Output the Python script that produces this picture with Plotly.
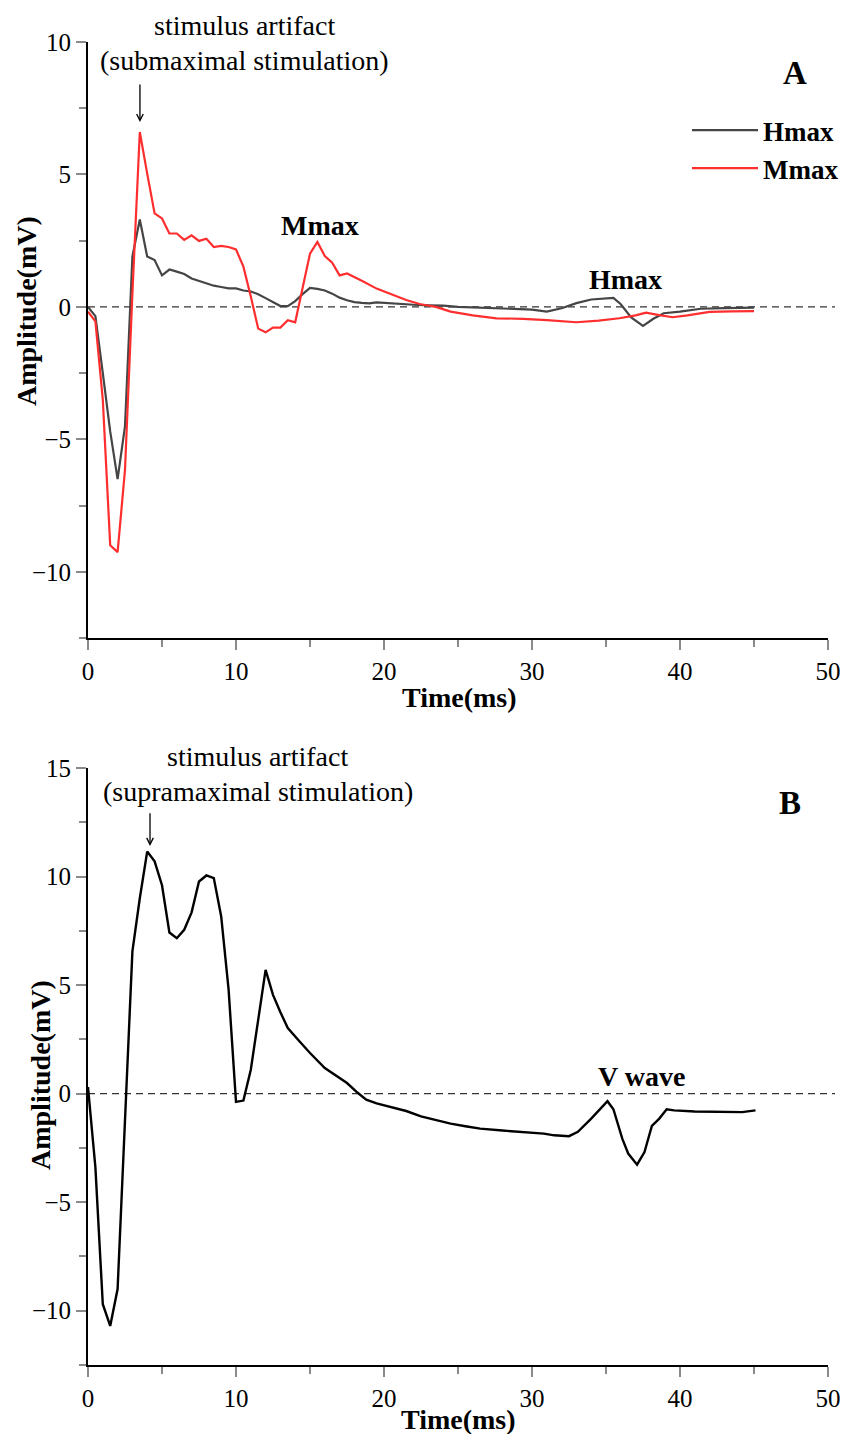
import plotly.graph_objects as go

# ---------------- Panel A data ----------------
t_hmax = [0, 0.5, 1.0, 1.5, 2.0, 2.5, 3.0, 3.5, 4.0, 4.5, 5.0, 5.5, 6.0, 6.5, 7.0, 7.5, 8.0,
          8.5, 9.0, 9.5, 10.0, 10.5, 11.0, 11.5, 12.0, 12.5, 13.0, 13.5, 14.0, 14.5, 15.0,
          15.5, 16.0, 16.5, 17.0, 17.5, 18.0, 18.5, 19.0, 19.5, 20.0, 21, 22, 23, 24, 25,
          26, 27, 28, 29, 30, 31, 32, 33, 34, 35.5, 36, 36.7, 37.5, 38.2, 38.9, 40, 41.4,
          43, 45]
v_hmax = [0, -0.35, -2.5, -4.7, -6.5, -4.5, 1.9, 3.3, 1.9, 1.77, 1.19, 1.41, 1.33, 1.24,
          1.07, 0.98, 0.88, 0.8, 0.75, 0.7, 0.7, 0.62, 0.58, 0.48, 0.33, 0.17, 0.03, 0.03,
          0.22, 0.48, 0.72, 0.68, 0.62, 0.5, 0.35, 0.25, 0.18, 0.15, 0.13, 0.17, 0.15, 0.12,
          0.08, 0.06, 0.05, 0.0, -0.02, -0.03, -0.05, -0.07, -0.1, -0.18, -0.05, 0.14, 0.28,
          0.34, 0.1, -0.4, -0.72, -0.45, -0.24, -0.18, -0.07, -0.05, -0.03]

t_mmax = [0, 0.5, 1.0, 1.5, 2.0, 2.5, 3.0, 3.5, 4.0, 4.5, 5.0, 5.5, 6.0, 6.5, 7.0, 7.5, 8.0,
          8.5, 9.0, 9.5, 10.0, 10.5, 11.0, 11.5, 12.0, 12.5, 13.0, 13.5, 14.0, 15.0, 15.5,
          16.0, 16.5, 17.0, 17.5, 18.0, 18.5, 19.5, 20.5, 21.5, 22.4, 23.5, 24.5, 26, 27.6,
          29.4, 31, 33, 34.5, 35.9, 37, 37.7, 38.5, 39.5, 40.5, 42, 43.5, 45]
v_mmax = [-0.18, -0.55, -3.5, -9.0, -9.26, -6.15, 0.5, 6.6, 5.03, 3.53, 3.34, 2.77, 2.77,
          2.53, 2.7, 2.49, 2.57, 2.26, 2.3, 2.26, 2.17, 1.52, 0.39, -0.82, -0.96, -0.78,
          -0.78, -0.5, -0.58, 2.01, 2.45, 1.92, 1.67, 1.19, 1.26, 1.13, 0.99, 0.69, 0.47,
          0.26, 0.11, 0.0, -0.18, -0.32, -0.43, -0.45, -0.5, -0.58, -0.52, -0.43, -0.32,
          -0.22, -0.3, -0.39, -0.32, -0.19, -0.17, -0.16]

# ---------------- Panel B data ----------------
t_b = [0, 0.5, 1.0, 1.5, 2.0, 3.0, 3.5, 4.0, 4.5, 5.0, 5.5, 6.0, 6.5, 7.0, 7.5, 8.0, 8.5,
       9.0, 9.5, 10.0, 10.5, 11.0, 12.0, 12.5, 13.0, 13.5, 14.3, 15.0, 16.0, 16.7, 17.5,
       18.2, 18.8, 19.5, 20.5, 21.5, 22.5, 23.5, 24.5, 25.5, 26.5, 28, 29.5, 30.8, 31.5,
       32.5, 33.1, 34, 35.1, 35.5, 36.1, 36.5, 37.1, 37.6, 38.1, 38.6, 39.1, 39.6, 41,
       42.8, 44.2, 45.1]
v_b = [0.3, -3.4, -9.7, -10.7, -9.0, 6.55, 9.0, 11.15, 10.7, 9.6, 7.42, 7.16, 7.55, 8.35,
       9.77, 10.05, 9.93, 8.16, 4.79, -0.38, -0.32, 1.1, 5.7, 4.55, 3.75, 3.02, 2.4, 1.87,
       1.18, 0.85, 0.49, 0.05, -0.28, -0.45, -0.62, -0.8, -1.05, -1.22, -1.38, -1.5, -1.61,
       -1.7, -1.78, -1.84, -1.92, -1.96, -1.76, -1.15, -0.35, -0.72, -2.07, -2.76, -3.27,
       -2.69, -1.49, -1.15, -0.72, -0.77, -0.82, -0.85, -0.85, -0.77]

x_ticks = [0, 10, 20, 30, 40, 50]
ya_ticks = [-10, -5, 0, 5, 10]
yb_ticks = [-10, -5, 0, 5, 10, 15]

FONT = "Liberation Serif"
W, H = 845, 1434

fig = go.Figure()
fig.add_trace(go.Scatter(x=t_hmax, y=v_hmax, mode="lines", name="<b>Hmax</b>",
                         line=dict(color="#454545", width=2.2), xaxis="x", yaxis="y"))
fig.add_trace(go.Scatter(x=t_mmax, y=v_mmax, mode="lines", name="<b>Mmax</b>",
                         line=dict(color="#ff2e2e", width=2.2), xaxis="x", yaxis="y"))
fig.add_trace(go.Scatter(x=t_b, y=v_b, mode="lines", name="B", showlegend=False,
                         line=dict(color="#000000", width=2.4), xaxis="x2", yaxis="y2"))

xdom = [88 / W, 828 / W]
dom_a = [1 - 638 / H, 1 - 42 / H]
dom_b = [1 - 1365 / H, 1 - 768 / H]

axis_common = dict(showline=True, linecolor="black", linewidth=2, showgrid=False,
                   zeroline=False, ticks="outside", ticklen=10, tickwidth=1.5,
                   tickcolor="#8a8a8a", tickfont=dict(family=FONT, size=25, color="black"))
minor_x = dict(ticks="outside", dtick=5, tick0=0, ticklen=7, tickcolor="#8a8a8a", tickwidth=1.5)
minor_y = dict(ticks="outside", dtick=2.5, tick0=0, ticklen=7, tickcolor="#8a8a8a", tickwidth=1.5)

fig.update_layout(
    width=W, height=H, margin=dict(l=0, r=0, t=0, b=0, autoexpand=False),
    paper_bgcolor="white", plot_bgcolor="white",
    font=dict(family=FONT, color="black"),
    xaxis=dict(domain=xdom, range=[0, 50], tickvals=x_ticks, anchor="y", minor=minor_x, **axis_common),
    yaxis=dict(domain=dom_a, range=[-12.5, 10], tickvals=ya_ticks, anchor="x", minor=minor_y, **axis_common),
    xaxis2=dict(domain=xdom, range=[0, 50], tickvals=x_ticks, anchor="y2", minor=minor_x, **axis_common),
    yaxis2=dict(domain=dom_b, range=[-12.5, 15], tickvals=yb_ticks, anchor="x2", minor=minor_y, **axis_common),
    legend=dict(x=687 / W, y=1 - 106 / H, xanchor="left", yanchor="top",
                bgcolor="rgba(0,0,0,0)", font=dict(family=FONT, size=27, color="black"),
                itemwidth=66, tracegroupgap=0),
    showlegend=True,
)

# dashed zero lines
for yref in ["y", "y2"]:
    fig.add_shape(type="line", xref="paper", yref=yref, x0=88 / W, x1=835 / W, y0=0, y1=0,
                  line=dict(color="#333333", width=1.4, dash="7px,5px"), layer="below")

ann = []
def txt(text, x, y, xref, yref, size=28, **kw):
    ann.append(dict(text=text, x=x, y=y, xref=xref, yref=yref, showarrow=False,
                    xanchor="center", yanchor="middle",
                    font=dict(family=FONT, size=size, color="black"), **kw))

# Panel A texts
txt("stimulus artifact", 245 / W, 1 - 26 / H, "paper", "paper")
txt("(submaximal stimulation)", 245 / W, 1 - 60 / H, "paper", "paper")
txt("<b>Mmax</b>", 15.68, 3.06, "x", "y")
txt("<b>Hmax</b>", 36.35, 1.02, "x", "y")
txt("<b>A</b>", 47.77, 8.83, "x", "y", size=33)
txt("<b>Time(ms)</b>", 459 / W, 1 - 697 / H, "paper", "paper")
txt("<b>Amplitude(mV)</b>", 26 / W, 1 - 311 / H, "paper", "paper", textangle=-90)

# Panel B texts
txt("stimulus artifact", 257 / W, 1 - 756 / H, "paper", "paper")
txt("(supramaximal stimulation)", 258 / W, 1 - 791 / H, "paper", "paper")
txt("<b>V wave</b>", 37.43, 0.77, "x2", "y2")
txt("<b>B</b>", 47.43, 13.39, "x2", "y2", size=33)
txt("<b>Time(ms)</b>", 458 / W, 1 - 1419 / H, "paper", "paper")
txt("<b>Amplitude(mV)</b>", 40 / W, 1 - 1075 / H, "paper", "paper", textangle=-90)

# arrows
ann.append(dict(x=3.51, y=6.98, ax=3.51, ay=8.45, xref="x", yref="y", axref="x", ayref="y",
                showarrow=True, arrowhead=5, arrowsize=1, arrowwidth=1.3, arrowcolor="black", text=""))
ann.append(dict(x=4.19, y=11.41, ax=4.19, ay=12.99, xref="x2", yref="y2", axref="x2", ayref="y2",
                showarrow=True, arrowhead=5, arrowsize=1, arrowwidth=1.3, arrowcolor="black", text=""))

fig.update_layout(annotations=ann)

fig.write_html("out.html", config={"displayModeBar": False},
               post_script="document.body.style.margin='0';document.body.style.overflow='hidden';")
